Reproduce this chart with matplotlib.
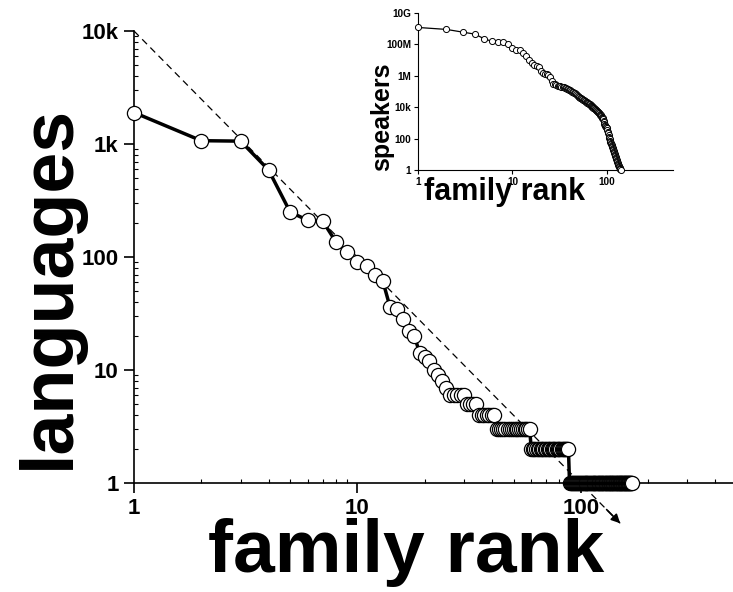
import matplotlib
matplotlib.use("Agg")
import matplotlib.pyplot as plt
from matplotlib.ticker import LogLocator, NullFormatter

plt.rcParams['font.family'] = ['Liberation Sans', 'DejaVu Sans']
plt.rcParams['font.weight'] = 'bold'

# ---------------- data: main panel (languages per family, by family rank) ----
languages = ([1900, 1070, 1060, 590, 250, 211, 207, 137, 110, 91, 84, 70, 61,
              36, 35, 28, 22, 20, 14, 13, 12, 10, 9, 8, 7]
             + [6] * 5 + [5] * 4 + [4] * 7 + [3] * 18 + [2] * 29 + [1] * 81)
family_rank = list(range(1, len(languages) + 1))

# guide line (power law, slope -2) with arrow
guide_x = [1, 150]
guide_y = [10000, 0.44]

main_xticks = [1, 10, 100]
main_xticklabels = ['1', '10', '100']
main_yticks = [1, 10, 100, 1000, 10000]
main_yticklabels = ['1', '10', '100', '1k', '10k']

# ---------------- data: inset (speakers per family, by family rank) ----------
speakers = [1.2e9, 9.0e8, 6.0e8, 4.5e8, 2.3e8, 1.6e8, 1.5e8, 1.5e8, 1.1e8, 6.0e7,
            4.5e7, 4.2e7, 3.0e7, 1.9e7, 1.0e7, 6.5e6, 5.0e6, 4.2e6, 3.8e6, 1.9e6,
            1.6e6, 1.4e6, 1.3e6, 1.1e6, 8.0e5, 4.5e5, 3.2e5, 2.9e5, 2.6e5, 2.4e5,
            2.2e5, 2.1e5, 2.0e5, 1.9e5, 1.8e5, 1.7e5, 1.6e5, 1.5e5, 1.4e5, 1.3e5,
            1.2e5, 1.1e5, 1.0e5, 9.0e4, 8.2e4, 7.5e4, 6.8e4, 6.0e4, 5.3e4, 4.7e4,
            4.3e4, 4.0e4, 3.7e4, 3.4e4, 3.2e4, 3.0e4, 2.8e4, 2.6e4, 2.4e4, 2.3e4,
            2.1e4, 1.9e4, 1.8e4, 1.7e4, 1.6e4, 1.5e4, 1.35e4, 1.25e4, 1.15e4, 1.1e4,
            1.0e4, 9.3e3, 8.7e3, 8.1e3, 7.6e3, 7.1e3, 6.6e3, 6.1e3, 5.7e3, 5.3e3,
            4.9e3, 4.5e3, 4.1e3, 3.7e3, 3.4e3, 3.1e3, 2.8e3, 2.5e3, 2.2e3, 2.0e3,
            1.7e3, 1.4e3, 1.1e3, 900, 740, 650, 580, 520, 480, 450,
            350, 280, 220, 170, 134, 110, 90, 75, 62, 52,
            46, 40, 35, 30, 26, 22, 19, 16, 14, 12,
            11, 9, 8, 7, 6, 5, 4.5, 4, 3.2, 2.7,
            2.4, 2.1, 1.9, 1.7, 1.5, 1.4, 1.3, 1.2, 1.1, 1.0]
inset_rank = list(range(1, len(speakers) + 1))

inset_xticks = [1, 10, 100]
inset_xticklabels = ['1', '10', '100']
inset_yticks = [1, 1e2, 1e4, 1e6, 1e8, 1e10]
inset_yticklabels = ['1', '100', '10k', '1M', '100M', '10G']

W, H = 733, 592
fig = plt.figure(figsize=(W / 100, H / 100), dpi=100)

# ---------------- main axes ---------------------------------------------------
ax = fig.add_axes([134 / W, (H - 483) / H, 603 / W, 452 / H])
ax.set_xscale('log')
ax.set_yscale('log')
ax.set_xlim(1, 500)
ax.set_ylim(1, 10000)
for s in ('top', 'right'):
    ax.spines[s].set_visible(False)
for s in ('left', 'bottom'):
    ax.spines[s].set_linewidth(1.2)

ax.plot(guide_x, guide_y, color='black', lw=0.9, ls=(0, (5.5, 3.8)),
        clip_on=False, zorder=2)
ax.annotate('', xy=(guide_x[1], guide_y[1]),
            xytext=(guide_x[1] / 1.15, guide_y[1] * 1.15 ** 2),
            arrowprops=dict(arrowstyle='-|>', color='black', lw=1.2,
                            mutation_scale=13, shrinkA=0, shrinkB=0),
            annotation_clip=False, zorder=5)

ax.plot(family_rank, languages, '-', color='black', lw=2.5,
        marker='o', ms=10.2, mfc='white', mec='black', mew=0.9,
        clip_on=False, zorder=3)

ax.set_xticks(main_xticks)
ax.set_xticklabels(main_xticklabels)
ax.set_yticks(main_yticks)
ax.set_yticklabels(main_yticklabels)
ax.xaxis.set_minor_locator(LogLocator(base=10, subs=range(2, 10), numticks=20))
ax.yaxis.set_minor_locator(LogLocator(base=10, subs=range(2, 10), numticks=20))
ax.xaxis.set_minor_formatter(NullFormatter())
ax.yaxis.set_minor_formatter(NullFormatter())
ax.tick_params(which='major', direction='out', length=7, width=1.2,
               labelsize=16, pad=4)
ax.tick_params(which='minor', direction='in', length=3, width=0.8)

fig.text(406 / W, (H - 572) / H, 'family rank', fontsize=54,
         fontweight='bold', ha='center', va='baseline')
fig.text(49 / W, (H - 287) / H, 'languages', fontsize=53,
         fontweight='bold', ha='center', va='center', rotation=90)

# ---------------- inset -------------------------------------------------------
ax2 = fig.add_axes([418 / W, (H - 170) / H, 255 / W, 157 / H])
ax2.set_xscale('log')
ax2.set_yscale('log')
ax2.set_xlim(1, 500)
ax2.set_ylim(1, 1e10)
for s in ('top', 'right'):
    ax2.spines[s].set_visible(False)
ax2.plot(inset_rank, speakers, '-', color='black', lw=0.9,
         marker='o', ms=4.4, mfc='white', mec='black', mew=0.7,
         clip_on=False, zorder=3)
ax2.set_xticks(inset_xticks)
ax2.set_xticklabels(inset_xticklabels)
ax2.set_yticks(inset_yticks)
ax2.set_yticklabels(inset_yticklabels)
ax2.xaxis.set_minor_locator(LogLocator(base=10, subs=range(2, 10), numticks=20))
ax2.yaxis.set_minor_locator(LogLocator(base=10, subs=range(2, 10), numticks=20))
ax2.xaxis.set_minor_formatter(NullFormatter())
ax2.yaxis.set_minor_formatter(NullFormatter())
ax2.tick_params(which='major', direction='out', length=3, width=0.8,
                labelsize=7.2, pad=2)
ax2.tick_params(which='minor', length=0)

fig.text(382 / W, (H - 117) / H, 'speakers', fontsize=18,
         fontweight='bold', ha='center', va='center', rotation=90)
fig.text(505 / W, (H - 192) / H, 'family rank', fontsize=22,
         fontweight='bold', ha='center', va='center')

fig.savefig('out.png', dpi=100)
